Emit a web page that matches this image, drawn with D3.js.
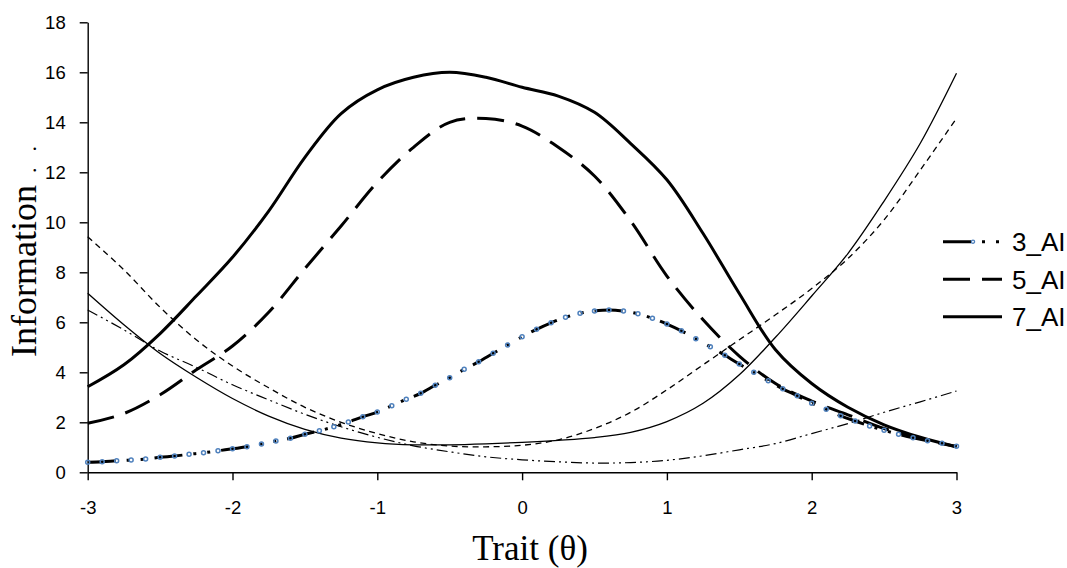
<!DOCTYPE html>
<html>
<head>
<meta charset="utf-8">
<script src="https://cdn.jsdelivr.net/npm/d3@7"></script>
<style>
  body { margin: 0; background: #fff; }
</style>
</head>
<body>
<script>
var w = 1067;
var h = 568;

// theta grid for the 3_AI markers (0.1 steps)
var thetaFine = [-3,-2.9,-2.8,-2.7,-2.6,-2.5,-2.4,-2.3,-2.2,-2.1,-2,-1.9,-1.8,-1.7,-1.6,-1.5,-1.4,-1.3,-1.2,-1.1,-1,
  -0.9,-0.8,-0.7,-0.6,-0.5,-0.4,-0.3,-0.2,-0.1,0,0.1,0.2,0.3,0.4,0.5,0.6,0.7,0.8,0.9,1,
  1.1,1.2,1.3,1.4,1.5,1.6,1.7,1.8,1.9,2,2.1,2.2,2.3,2.4,2.5,2.6,2.7,2.8,2.9,3];
var info3 = [0.40,0.42,0.46,0.49,0.53,0.60,0.65,0.72,0.78,0.86,0.94,1.02,1.13,1.25,1.36,1.52,1.66,1.82,2.01,2.22,2.41,
  2.66,2.92,3.16,3.48,3.78,4.12,4.42,4.76,5.09,5.42,5.72,5.98,6.20,6.36,6.45,6.49,6.45,6.34,6.16,5.93,
  5.66,5.34,5.02,4.68,4.33,4.00,3.66,3.34,3.06,2.76,2.52,2.26,2.05,1.85,1.68,1.52,1.38,1.26,1.16,1.04];

// theta grid for the other curves (0.25 steps)
var theta = [-3,-2.75,-2.5,-2.25,-2,-1.75,-1.5,-1.25,-1,-0.75,-0.5,-0.25,0,0.25,0.5,0.75,1,1.25,1.5,1.75,2,2.25,2.5,2.75,3];
var info5 = [1.96,2.35,3.1,4.1,5.05,6.4,8.15,9.85,11.6,13.0,14.0,14.15,13.85,13.0,11.85,10.05,7.85,6.1,4.65,3.55,2.85,2.3,1.75,1.35,1.02];
var info7 = [3.42,4.3,5.55,7.05,8.6,10.45,12.6,14.35,15.3,15.8,16.0,15.8,15.4,15.05,14.4,13.15,11.7,9.55,7.15,4.9,3.55,2.6,1.9,1.4,1.02];
// unlabeled thin curves
var thinSolid = [7.16,5.9,4.75,3.8,2.95,2.25,1.72,1.37,1.18,1.1,1.1,1.14,1.2,1.28,1.39,1.6,2.03,2.76,3.9,5.4,7.05,8.75,10.85,13.16,15.96];
var thinDash = [9.42,8.1,6.6,5.3,4.25,3.38,2.6,2.0,1.55,1.22,1.05,1.02,1.08,1.3,1.75,2.4,3.3,4.3,5.3,6.3,7.35,8.55,10.1,12.09,14.16];
var thinDashDot = [6.49,5.7,4.85,4.2,3.5,2.9,2.32,1.82,1.4,1.06,0.82,0.62,0.5,0.42,0.37,0.39,0.48,0.66,0.9,1.15,1.55,1.95,2.4,2.82,3.25];

var xTicks = [-3,-2,-1,0,1,2,3];
var yTicks = [0,2,4,6,8,10,12,14,16,18];
var legendNames = ["3_AI","5_AI","7_AI"];

var svg = d3.select("body").append("svg")
  .attr("width", w)
  .attr("height", h);

var x = d3.scaleLinear().domain([-3, 3]).range([87.7, 956.5]);
var y = d3.scaleLinear().domain([0, 18]).range([472.3, 22.3]);

var line = d3.line()
  .x(function(d){ return x(d[0]); })
  .y(function(d){ return y(d[1]); })
  .curve(d3.curveCatmullRom.alpha(0.5));

function pairs(xs, ys){
  return xs.map(function(v, i){ return [v, ys[i]]; });
}

// axes
var xAxis = svg.append("g")
  .attr("transform", "translate(0," + y(0) + ")")
  .call(d3.axisBottom(x).tickValues(xTicks).tickSize(8).tickSizeOuter(0));
var yAxis = svg.append("g")
  .attr("transform", "translate(" + x(-3) + ",0)")
  .call(d3.axisLeft(y).tickValues(yTicks).tickSize(8).tickSizeOuter(0).tickPadding(14));

[xAxis, yAxis].forEach(function(g){
  g.select(".domain").attr("stroke", "#000").attr("stroke-width", 1.4);
  g.selectAll(".tick line").attr("stroke", "#000").attr("stroke-width", 1.4);
  g.selectAll("text")
    .attr("font-family", "'Liberation Sans', Arial, sans-serif")
    .attr("font-size", "18.5px")
    .attr("fill", "#000");
});
xAxis.selectAll(".tick text").text(function(d){ return d; }).attr("y", 29);

// thin curves
svg.append("path").datum(pairs(theta, thinSolid))
  .attr("d", line).attr("fill", "none").attr("stroke", "#000").attr("stroke-width", 1.3);
svg.append("path").datum(pairs(theta, thinDash))
  .attr("d", line).attr("fill", "none").attr("stroke", "#000").attr("stroke-width", 1.3)
  .attr("stroke-dasharray", "6,4.5");
svg.append("path").datum(pairs(theta, thinDashDot))
  .attr("d", line).attr("fill", "none").attr("stroke", "#000").attr("stroke-width", 1.2)
  .attr("stroke-dasharray", "11,4,2,4,2,4");

// main curves
svg.append("path").datum(pairs(theta, info7))
  .attr("d", line).attr("fill", "none").attr("stroke", "#000").attr("stroke-width", 3);
svg.append("path").datum(pairs(theta, info5))
  .attr("d", line).attr("fill", "none").attr("stroke", "#000").attr("stroke-width", 3)
  .attr("stroke-dasharray", "27,12");
svg.append("path").datum(pairs(thetaFine, info3))
  .attr("d", line).attr("fill", "none").attr("stroke", "#000").attr("stroke-width", 3)
  .attr("stroke-dasharray", "28,11,3,11,3,11");

svg.selectAll("circle.m3")
  .data(pairs(thetaFine, info3))
  .enter()
  .append("circle")
  .attr("class", "m3")
  .attr("cx", function(d){ return x(d[0]); })
  .attr("cy", function(d){ return y(d[1]); })
  .attr("r", 2)
  .attr("fill", "none")
  .attr("stroke", "#4F81BD")
  .attr("stroke-width", 1.5);

// legend
var dashes = ["28,11,3,11,3,11", "27,12", null];
var lg = svg.selectAll("g.lg")
  .data(legendNames)
  .enter()
  .append("g")
  .attr("class", "lg")
  .attr("transform", function(d, i){ return "translate(943," + (241.7 + i * 37.5) + ")"; });
lg.append("line")
  .attr("x1", 0).attr("x2", 59).attr("y1", 0).attr("y2", 0)
  .attr("stroke", "#000").attr("stroke-width", 3)
  .attr("stroke-dasharray", function(d, i){ return dashes[i]; });
lg.filter(function(d, i){ return i === 0; })
  .append("circle")
  .attr("cx", 30).attr("cy", 0).attr("r", 1.6)
  .attr("fill", "none").attr("stroke", "#4F81BD").attr("stroke-width", 1.3);
lg.append("text")
  .attr("x", 69)
  .attr("y", 0)
  .attr("dy", "0.36em")
  .attr("font-family", "'Liberation Sans', Arial, sans-serif")
  .attr("font-size", "26px")
  .attr("fill", "#000")
  .text(function(d){ return d; });

// axis titles
svg.append("text")
  .attr("x", 530)
  .attr("y", 560)
  .attr("text-anchor", "middle")
  .attr("font-family", "'Liberation Serif', 'Times New Roman', serif")
  .attr("font-size", "35px")
  .attr("fill", "#000")
  .text("Trait (θ)");

var yt = svg.append("text")
  .attr("transform", "translate(36,357) rotate(-90)")
  .attr("font-family", "'Liberation Serif', 'Times New Roman', serif")
  .attr("font-size", "36px")
  .attr("fill", "#000");
yt.append("tspan").text("Information");
yt.append("tspan").attr("dx", 12).attr("font-size", "22px").text(".");
yt.append("tspan").attr("dx", 16).attr("font-size", "22px").text(".");
</script>
</body>
</html>
